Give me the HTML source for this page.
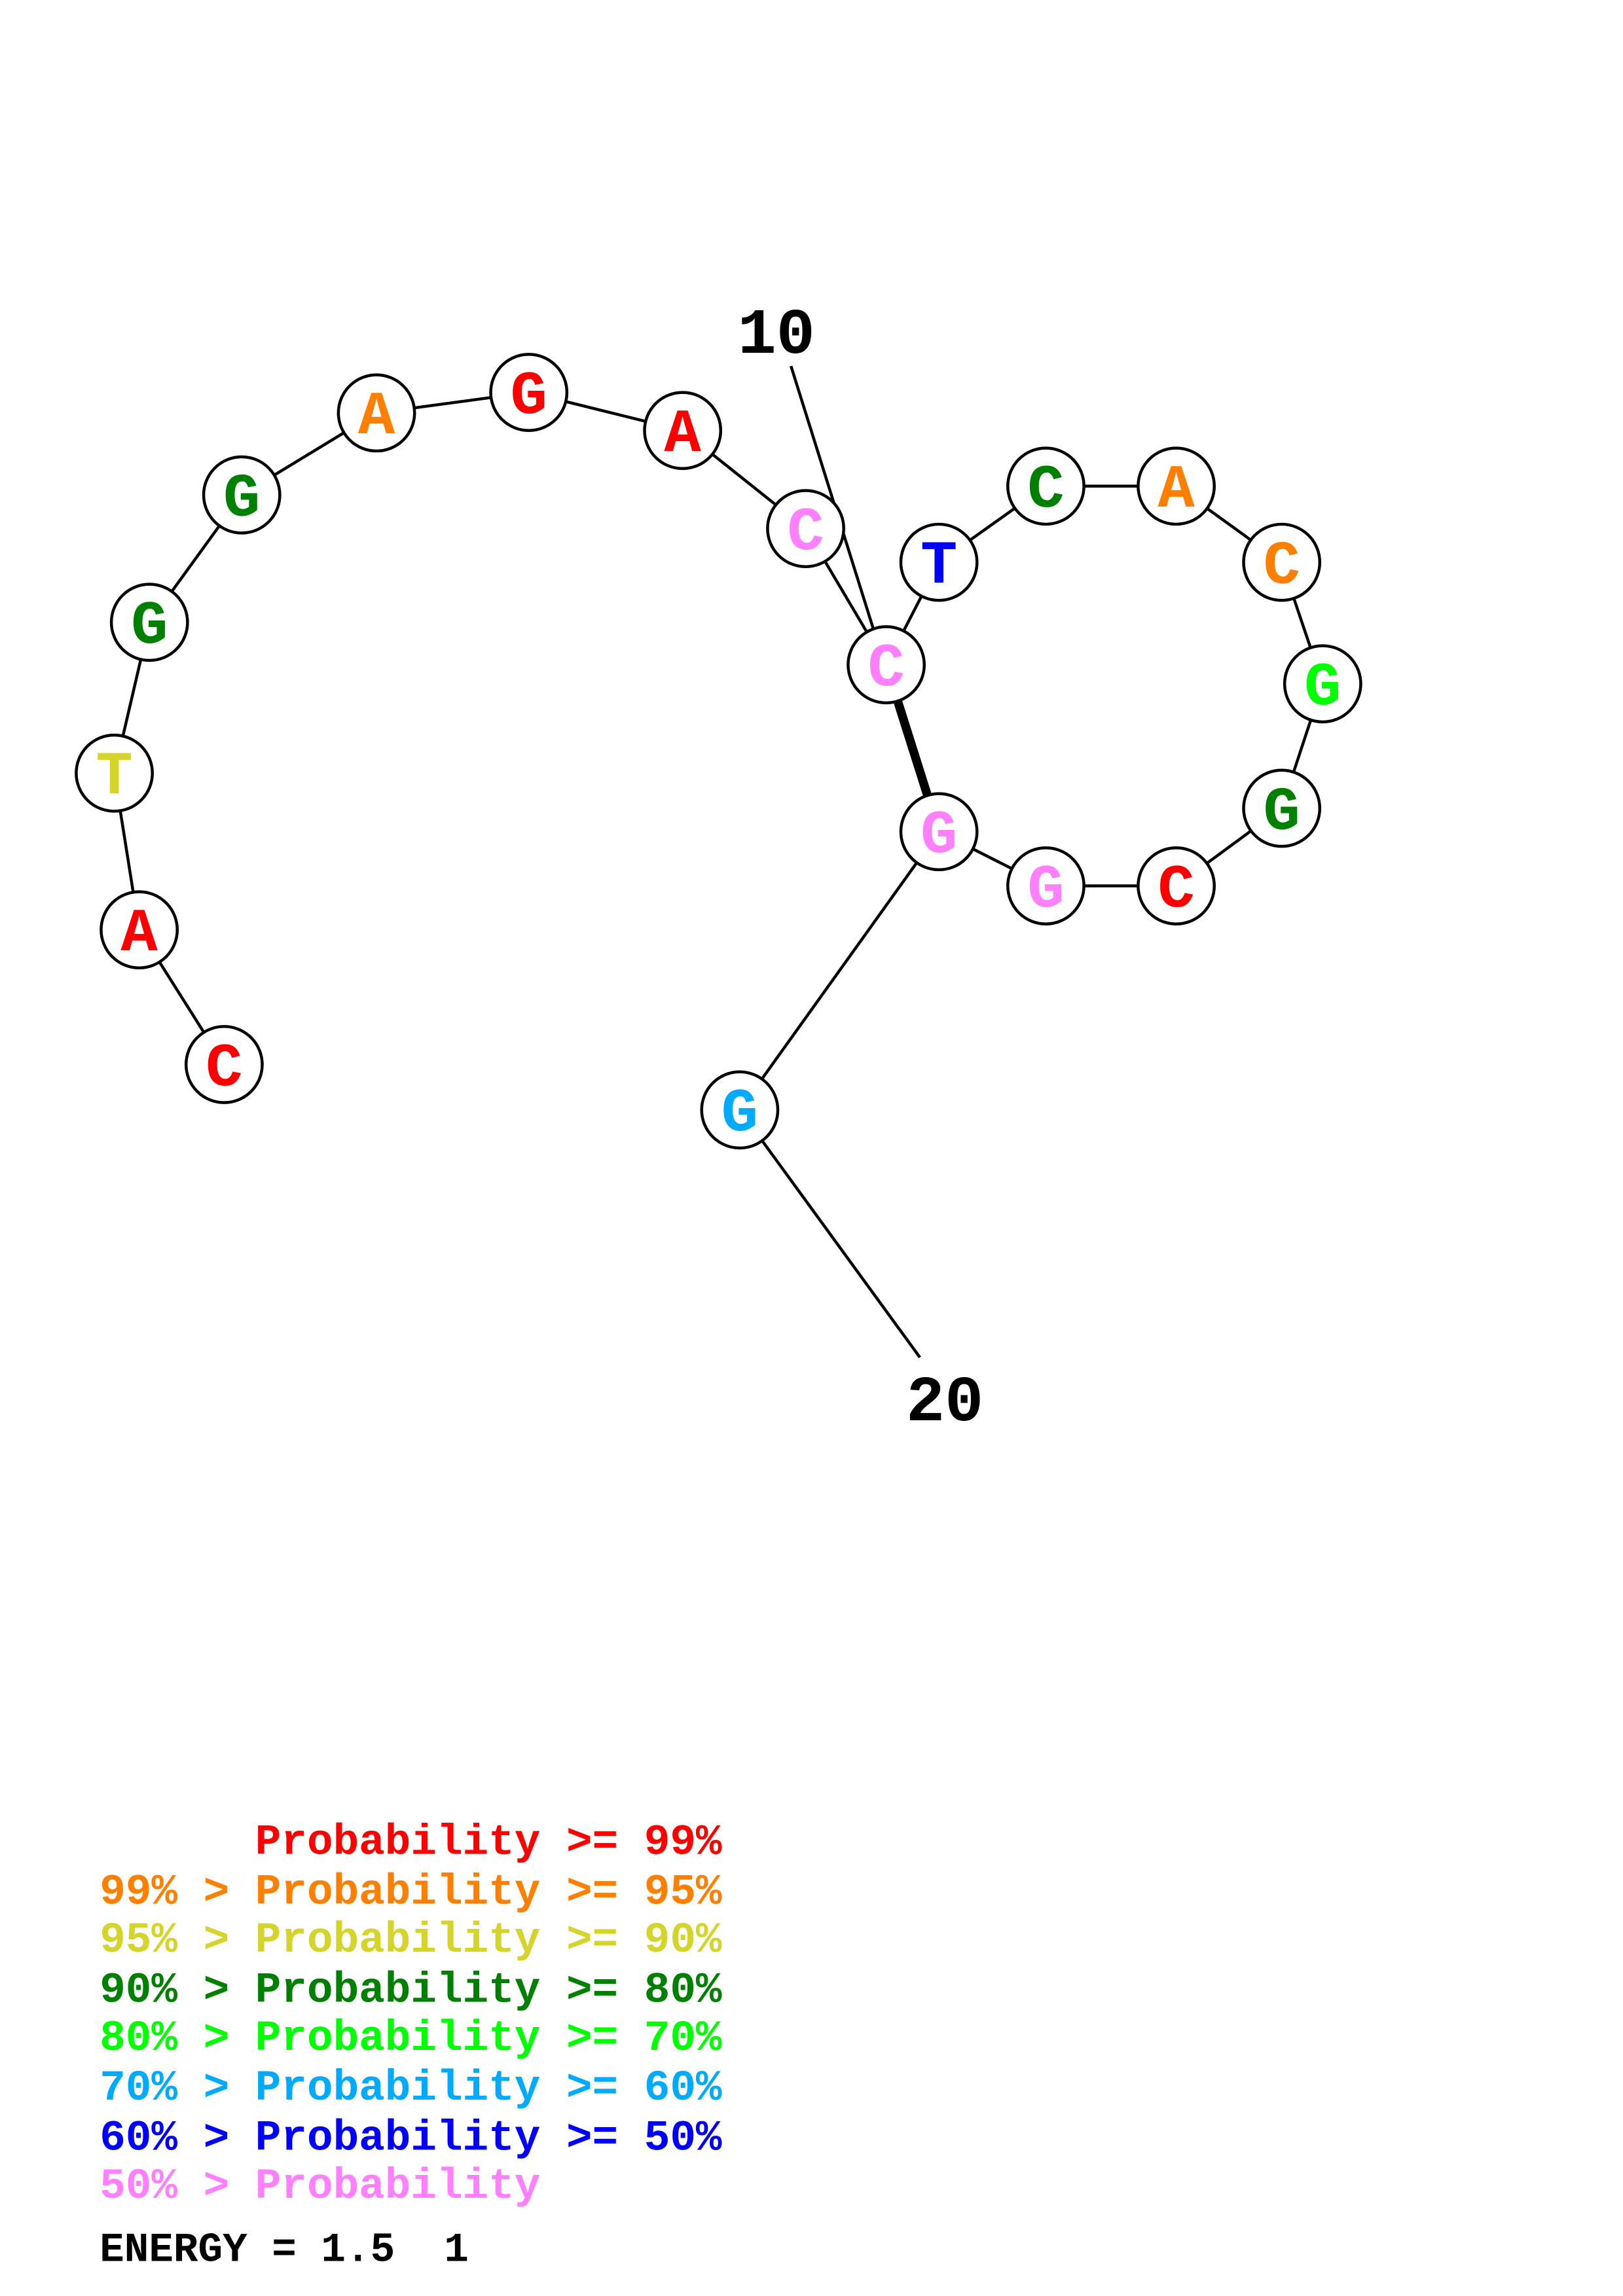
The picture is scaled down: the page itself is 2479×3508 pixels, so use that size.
<!DOCTYPE html>
<html><head><meta charset="utf-8"><style>html,body{margin:0;padding:0;background:#fff}svg{display:block}text{white-space:pre}</style></head>
<body>
<svg width="2479" height="3508" viewBox="0 0 1108 1568" xmlns="http://www.w3.org/2000/svg">
<g stroke="#000" stroke-width="2" fill="none">
<polyline points="153,727 95,635 78,528 102,425 165,338 257,282 361,268 466,294 550,361 605,454 641,384 714,332 803,332 875,384 903,467 875,552 803,605 714,605 641,568 505,758"/>
<line x1="540" y1="250" x2="597" y2="432"/>
<line x1="505" y1="758" x2="628" y2="927"/>
<line x1="605" y1="454" x2="641" y2="568" stroke-width="6"/>
</g>
<g stroke="#000" stroke-width="2" fill="#fff">
<circle cx="153" cy="727" r="26"/><circle cx="95" cy="635" r="26"/><circle cx="78" cy="528" r="26"/><circle cx="102" cy="425" r="26"/><circle cx="165" cy="338" r="26"/><circle cx="257" cy="282" r="26"/><circle cx="361" cy="268" r="26"/><circle cx="466" cy="294" r="26"/><circle cx="550" cy="361" r="26"/><circle cx="605" cy="454" r="26"/><circle cx="641" cy="384" r="26"/><circle cx="714" cy="332" r="26"/><circle cx="803" cy="332" r="26"/><circle cx="875" cy="384" r="26"/><circle cx="903" cy="467" r="26"/><circle cx="875" cy="552" r="26"/><circle cx="803" cy="605" r="26"/><circle cx="714" cy="605" r="26"/><circle cx="641" cy="568" r="26"/><circle cx="505" cy="758" r="26"/>
</g>
<g font-family="Liberation Mono, monospace" font-weight="bold" font-size="42" text-anchor="middle">
<text x="153" y="741" fill="#ff0000">C</text>
<text x="95" y="649" fill="#ff0000">A</text>
<text x="78" y="542" fill="#d4d42a">T</text>
<text x="102" y="439" fill="#008000">G</text>
<text x="165" y="352" fill="#008000">G</text>
<text x="257" y="296" fill="#ff8000">A</text>
<text x="361" y="282" fill="#ff0000">G</text>
<text x="466" y="308" fill="#ff0000">A</text>
<text x="550" y="375" fill="#ff80ff">C</text>
<text x="605" y="468" fill="#ff80ff">C</text>
<text x="641" y="398" fill="#0000ff">T</text>
<text x="714" y="346" fill="#008000">C</text>
<text x="803" y="346" fill="#ff8000">A</text>
<text x="875" y="398" fill="#ff8000">C</text>
<text x="903" y="481" fill="#00ff00">G</text>
<text x="875" y="566" fill="#008000">G</text>
<text x="803" y="619" fill="#ff0000">C</text>
<text x="714" y="619" fill="#ff80ff">G</text>
<text x="641" y="582" fill="#ff80ff">G</text>
<text x="505" y="772" fill="#00aaff">G</text>
<text x="530" y="241" fill="#000" font-size="44">10</text>
<text x="645" y="970" fill="#000" font-size="44">20</text>
</g>
<g font-family="Liberation Mono, monospace" font-weight="bold" font-size="29.5">
<text x="68" y="1266" fill="#ff0000">      Probability &gt;= 99%</text>
<text x="68" y="1300" fill="#ff8000">99% &gt; Probability &gt;= 95%</text>
<text x="68" y="1333" fill="#d4d42a">95% &gt; Probability &gt;= 90%</text>
<text x="68" y="1367" fill="#008000">90% &gt; Probability &gt;= 80%</text>
<text x="68" y="1400" fill="#00ff00">80% &gt; Probability &gt;= 70%</text>
<text x="68" y="1434" fill="#00aaff">70% &gt; Probability &gt;= 60%</text>
<text x="68" y="1468" fill="#0000ff">60% &gt; Probability &gt;= 50%</text>
<text x="68" y="1501" fill="#ff80ff">50% &gt; Probability</text>
<text x="68" y="1544" fill="#000" font-size="28">ENERGY = 1.5  1</text>
</g>
</svg>
</body></html>
